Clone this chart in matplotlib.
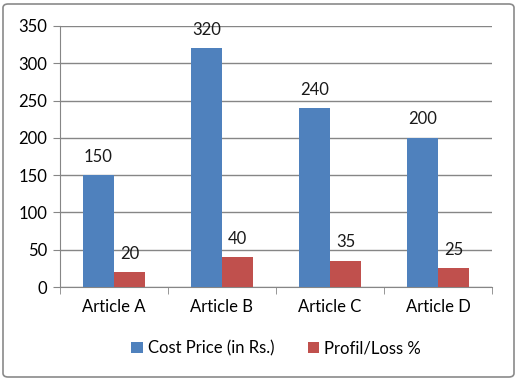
import numpy as np
import matplotlib.pyplot as plt
from matplotlib.patches import FancyBboxPatch

plt.rcParams['font.family'] = ['Lato', 'DejaVu Sans']

categories = ['Article A', 'Article B', 'Article C', 'Article D']
cost_price = [150, 320, 240, 200]
profit_loss = [20, 40, 35, 25]

blue = '#4F81BD'
red = '#C0504D'
grid_col = '#868686'

fig = plt.figure(figsize=(5.17, 3.81), dpi=100)
ax = fig.add_axes([60 / 517, 1 - 287 / 381, 432 / 517, 261 / 381])

x = np.arange(len(categories))
w = 0.287
b1 = ax.bar(x - w / 2, cost_price, w, color=blue, label='Cost Price (in Rs.)', zorder=3)
b2 = ax.bar(x + w / 2, profit_loss, w, color=red, label='Profil/Loss %', zorder=3)

for bars in (b1, b2):
    for r in bars:
        ax.text(r.get_x() + r.get_width() / 2, r.get_height() + 14, str(int(r.get_height())),
                ha='center', va='bottom', fontsize=12, color='#1a1a1a')

ax.set_xlim(-0.5, len(categories) - 0.5)
ax.set_ylim(0, 350)
ax.set_yticks(np.arange(0, 351, 50))
ax.set_xticks(x)
ax.set_xticklabels(categories)
ax.set_xticks(np.arange(-0.5, len(categories), 1), minor=True)
ax.tick_params(axis='x', which='major', length=0, pad=9, labelsize=12)
ax.tick_params(axis='x', which='minor', length=5, color=grid_col)
ax.tick_params(axis='y', length=5, color=grid_col, pad=4, labelsize=12)
ax.yaxis.grid(True, color=grid_col, linewidth=1, zorder=0)
for s in ['top', 'right']:
    ax.spines[s].set_visible(False)
for s in ['left', 'bottom']:
    ax.spines[s].set_color(grid_col)

ax.legend(loc='center', bbox_to_anchor=(0.5, -0.235), ncol=2, frameon=False,
          fontsize=12, handlelength=0.7, handleheight=0.7, handletextpad=0.3,
          columnspacing=2.0)

border = FancyBboxPatch((3 / 517, 4 / 381), 511 / 517, 373 / 381,
                        boxstyle='round,pad=0,rounding_size=0.01',
                        transform=fig.transFigure, fill=False,
                        edgecolor='#8a8a8a', linewidth=1.2)
fig.patches.append(border)

fig.savefig('out.png', dpi=100)
